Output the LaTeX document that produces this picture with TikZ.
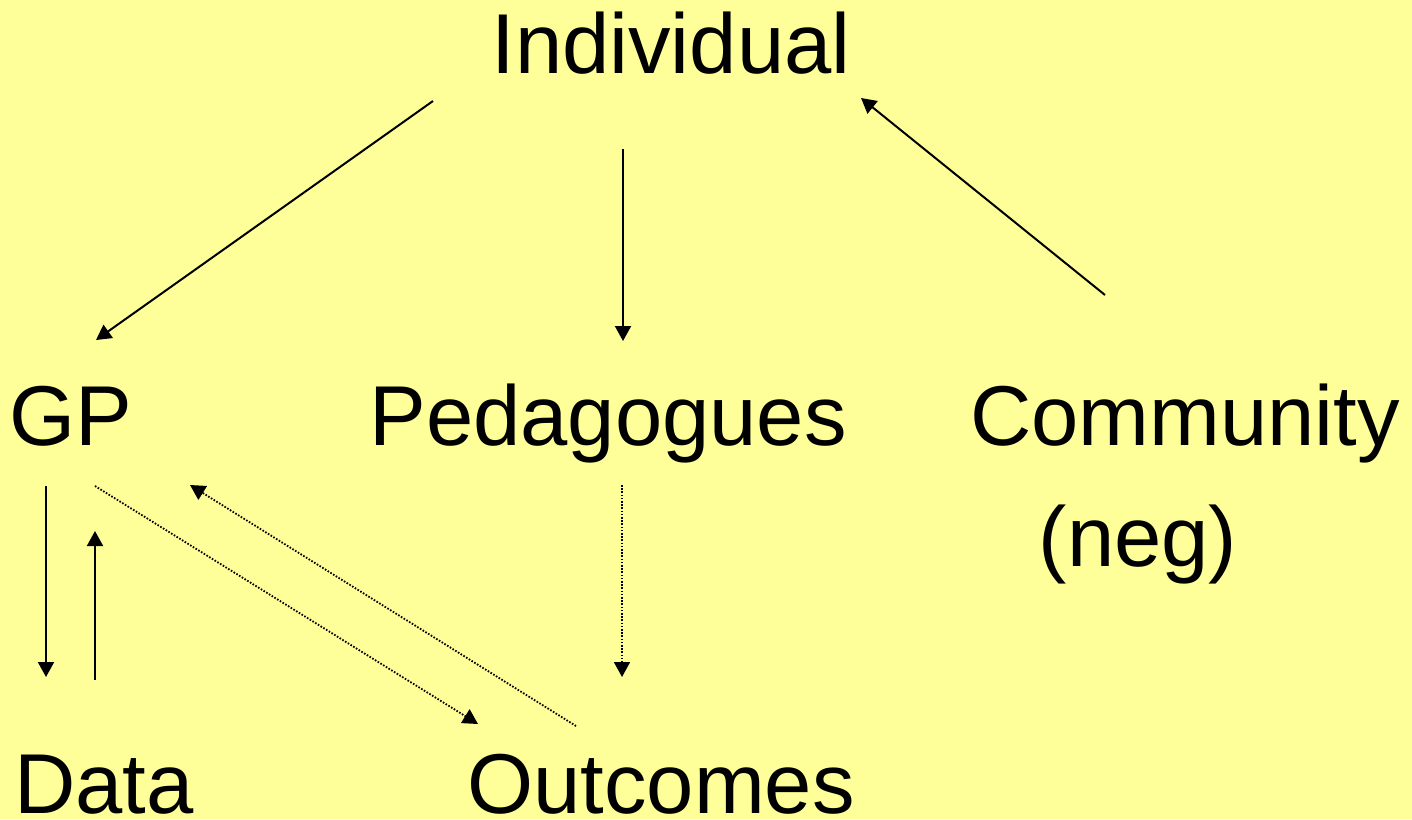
\documentclass[tikz,border=0pt]{standalone}
\usepackage{fontspec}
\setmainfont{Liberation Sans}
\usepackage{xcolor}
\usepackage{tikz}
\usetikzlibrary{arrows.meta}
\definecolor{bg}{HTML}{FFFF99}
\definecolor{ink}{HTML}{000000}
\tikzset{
  nodeLbl/.style={text=ink, inner sep=0pt, anchor=base, font=\fontsize{42.5}{50}\selectfont},
  solidArr/.style={draw=ink, line width=1pt, -{Triangle[length=7.5pt,width=8pt]}},
  dotArr/.style={solidArr, line width=0.9pt, dash pattern=on 0.8pt off 0.8pt},
}
\begin{document}
\begin{tikzpicture}[x=0.5pt, y=-0.5pt]
  \fill[bg] (0,0) rectangle (1412,819);
  \useasboundingbox (0,0) rectangle (1412,819);

  \node[nodeLbl] (indiv) at (671,73)  {Individual};
  \node[nodeLbl] (gp)    at (71,445)  {GP};
  \node[nodeLbl] (ped)   at (608,445) {Pedagogues};
  \node[nodeLbl] (comm)  at (1185,445) {Community};
  \node[nodeLbl] (neg)   at (1138,566) {(neg)};
  \node[nodeLbl] (data)  at (104,813) {Data};
  \node[nodeLbl] (outc)  at (661,813) {Outcomes};

  \draw[solidArr] ([shift={(-238,28)}]indiv.base) -- ([shift={(25,-105)}]gp.base);
  \draw[solidArr] ([shift={(-48,76)}]indiv.base) -- ([shift={(15,-104)}]ped.base);
  \draw[solidArr] ([shift={(-80,-150)}]comm.base) -- ([shift={(190,25)}]indiv.base);
  \draw[solidArr] ([shift={(-25,41)}]gp.base) -- ([shift={(-58,-136)}]data.base);
  \draw[solidArr] ([shift={(-9,-133)}]data.base) -- ([shift={(24,86)}]gp.base);

  \draw[dotArr] ([shift={(24,41)}]gp.base) -- ([shift={(-183,-89)}]outc.base);
  \draw[dotArr] ([shift={(-85,-87)}]outc.base) -- ([shift={(119,40)}]gp.base);
  \draw[dotArr] ([shift={(14,40)}]ped.base) -- ([shift={(-39,-136)}]outc.base);
\end{tikzpicture}
\end{document}
